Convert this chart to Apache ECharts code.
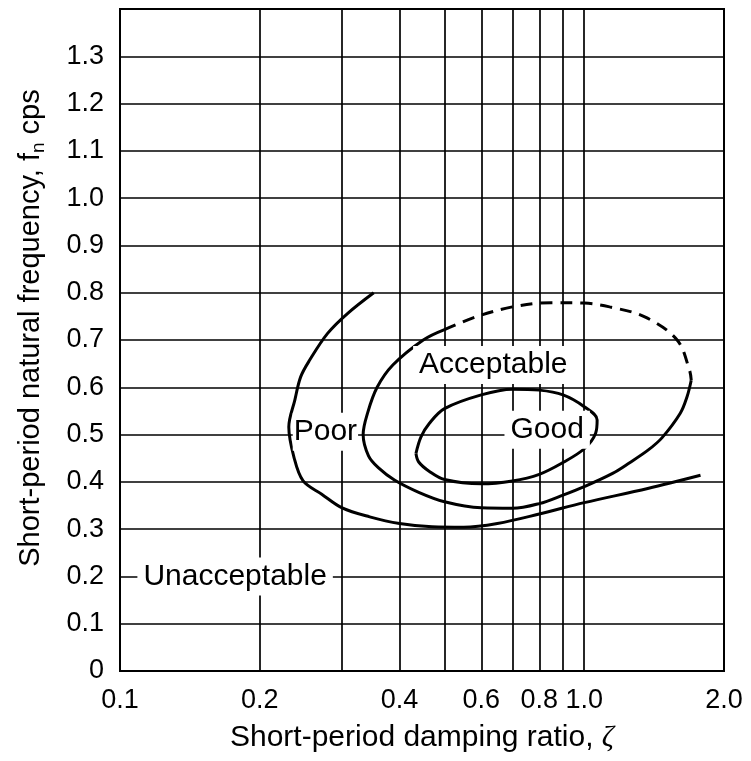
<!DOCTYPE html>
<html>
<head>
<meta charset="utf-8">
<script src="https://cdn.jsdelivr.net/npm/echarts@6/dist/echarts.min.js"></script>
<style>
html,body{margin:0;padding:0;background:#fff;}
#chart{width:751px;height:761px;}
</style>
</head>
<body>
<div id="chart"></div>
<script>
// ---- data ----
const xGridValues = [0.1, 0.2, 0.3, 0.4, 0.5, 0.6, 0.7, 0.8, 0.9, 1.0, 2.0];
const xTickLabels = [0.1, 0.2, 0.4, 0.6, 0.8, 1.0, 2.0];
const yMin = 0, yMax = 1.4, yStep = 0.1;

// Boundary "Poor" / "Unacceptable" (open curve)
const poorX = [0.352, 0.309, 0.280, 0.256, 0.245, 0.238, 0.231, 0.237, 0.248, 0.272, 0.301, 0.345, 0.40, 0.47, 0.55, 0.65, 0.80, 1.00, 1.37, 1.78];
const poorY = [0.800, 0.756, 0.714, 0.657, 0.622, 0.573, 0.516, 0.452, 0.402, 0.374, 0.345, 0.326, 0.312, 0.305, 0.304, 0.312, 0.332, 0.356, 0.386, 0.414];

// Boundary "Acceptable" (closed curve), solid part (clockwise from right end of dashes)
const accSolidX = [1.70, 1.665, 1.61, 1.47, 1.372, 1.25, 1.151, 1.00, 0.90, 0.80, 0.70, 0.60, 0.50, 0.44, 0.39, 0.36, 0.343, 0.334, 0.342, 0.358, 0.387, 0.45, 0.50];
const accSolidY = [0.615, 0.580, 0.545, 0.493, 0.467, 0.440, 0.418, 0.390, 0.372, 0.354, 0.344, 0.345, 0.358, 0.378, 0.404, 0.430, 0.455, 0.500, 0.548, 0.600, 0.647, 0.700, 0.722];
// Acceptable, dashed (estimated) part
const accDashX = [0.50, 0.585, 0.70, 0.85, 1.00, 1.134, 1.35, 1.585, 1.686, 1.70];
const accDashY = [0.722, 0.749, 0.770, 0.779, 0.778, 0.770, 0.749, 0.700, 0.636, 0.615];

// Boundary "Good" (closed curve)
const goodX = [0.434, 0.445, 0.464, 0.50, 0.60, 0.70, 0.80, 0.90, 1.00, 1.066, 1.058, 1.00, 0.90, 0.80, 0.70, 0.60, 0.50, 0.464, 0.44, 0.434];
const goodY = [0.460, 0.495, 0.524, 0.555, 0.584, 0.596, 0.594, 0.584, 0.559, 0.531, 0.503, 0.470, 0.441, 0.416, 0.402, 0.396, 0.405, 0.422, 0.442, 0.460];

// Region labels
const regionNames = ['Unacceptable', 'Poor', 'Acceptable', 'Good'];
const regionX = [0.177, 0.277, 0.637, 0.832];
const regionY = [0.2, 0.506, 0.647, 0.51];

// ---- chart ----
const pair = (xs, ys) => xs.map((x, i) => [x, ys[i]]);
const FONT = '"Liberation Sans", Arial, Helvetica, sans-serif';
const curveStyle = { color: '#000', width: 3 };
const SMOOTH = 0.35;

const labelPads = { 'Poor': [4, 1, 4, 1] };
const labelData = regionNames.map((n, i) => ({
  name: n,
  value: [regionX[i], regionY[i]],
  label: { padding: labelPads[n] || [4, 6, 4, 6] }
}));

const chart = echarts.init(document.getElementById('chart'), null, { renderer: 'canvas' });
chart.setOption({
  animation: false,
  backgroundColor: '#fff',
  grid: { left: 120, right: 27, top: 9, bottom: 90, show: true, borderColor: '#000', borderWidth: 2, backgroundColor: 'transparent' },
  xAxis: {
    type: 'log', logBase: 10, min: 0.1, max: 2.0,
    axisLine: { show: true, lineStyle: { color: '#000', width: 2 } },
    axisTick: { show: false, customValues: xGridValues },
    axisLabel: { customValues: xTickLabels, formatter: v => Number(v).toFixed(1), color: '#000', fontSize: 27, fontFamily: FONT, margin: 16 },
    splitLine: { show: true, lineStyle: { color: '#000', width: 1.7 } },
    minorSplitLine: { show: false },
    name: 'Short-period damping ratio, {it|ζ}',
    nameLocation: 'middle', nameGap: 52,
    nameTextStyle: { color: '#000', fontSize: 30, fontFamily: FONT, rich: { it: { fontSize: 30, fontStyle: 'italic', fontFamily: '"Liberation Serif", "DejaVu Serif", serif', color: '#000' } } }
  },
  yAxis: {
    type: 'value', min: yMin, max: yMax, interval: yStep,
    axisLine: { show: true, lineStyle: { color: '#000', width: 2 } },
    axisTick: { show: false },
    axisLabel: { formatter: v => (v > yMax - yStep / 2 ? '' : (Math.abs(v) < 1e-9 ? '0' : v.toFixed(1))), color: '#000', fontSize: 27, fontFamily: FONT, margin: 16 },
    splitLine: { show: true, lineStyle: { color: '#000', width: 1.7 } },
    name: 'Short-period natural frequency, f{sub|n} cps',
    nameLocation: 'middle', nameGap: 72, nameRotate: 90,
    nameTextStyle: { color: '#000', fontSize: 29, fontFamily: FONT, lineHeight: 34, padding: [0, 0, 0, 24], rich: { sub: { fontSize: 19, fontFamily: FONT, lineHeight: 34, verticalAlign: 'bottom', color: '#000' } } }
  },
  series: [
    { type: 'line', name: 'Poor boundary', data: pair(poorX, poorY), showSymbol: false, smooth: SMOOTH, lineStyle: curveStyle, z: 3 },
    { type: 'line', name: 'Acceptable boundary', data: pair(accSolidX, accSolidY), showSymbol: false, smooth: SMOOTH, lineStyle: curveStyle, z: 3 },
    { type: 'line', name: 'Acceptable boundary (dashed)', data: pair(accDashX, accDashY), showSymbol: false, smooth: SMOOTH, lineStyle: { color: '#000', width: 3, type: [12, 8] }, z: 3 },
    { type: 'line', name: 'Good boundary', data: pair(goodX, goodY), showSymbol: false, smooth: SMOOTH, lineStyle: curveStyle, z: 3 },
    {
      type: 'scatter', name: 'Regions', data: labelData, symbolSize: 1,
      itemStyle: { color: '#fff', opacity: 1 }, z: 5,
      label: { show: true, position: 'inside', formatter: p => p.name, color: '#000', fontSize: 30, fontFamily: FONT, backgroundColor: '#fff', textBorderWidth: 0, textBorderColor: 'transparent', opacity: 1 }
    }
  ]
});
</script>
</body>
</html>
